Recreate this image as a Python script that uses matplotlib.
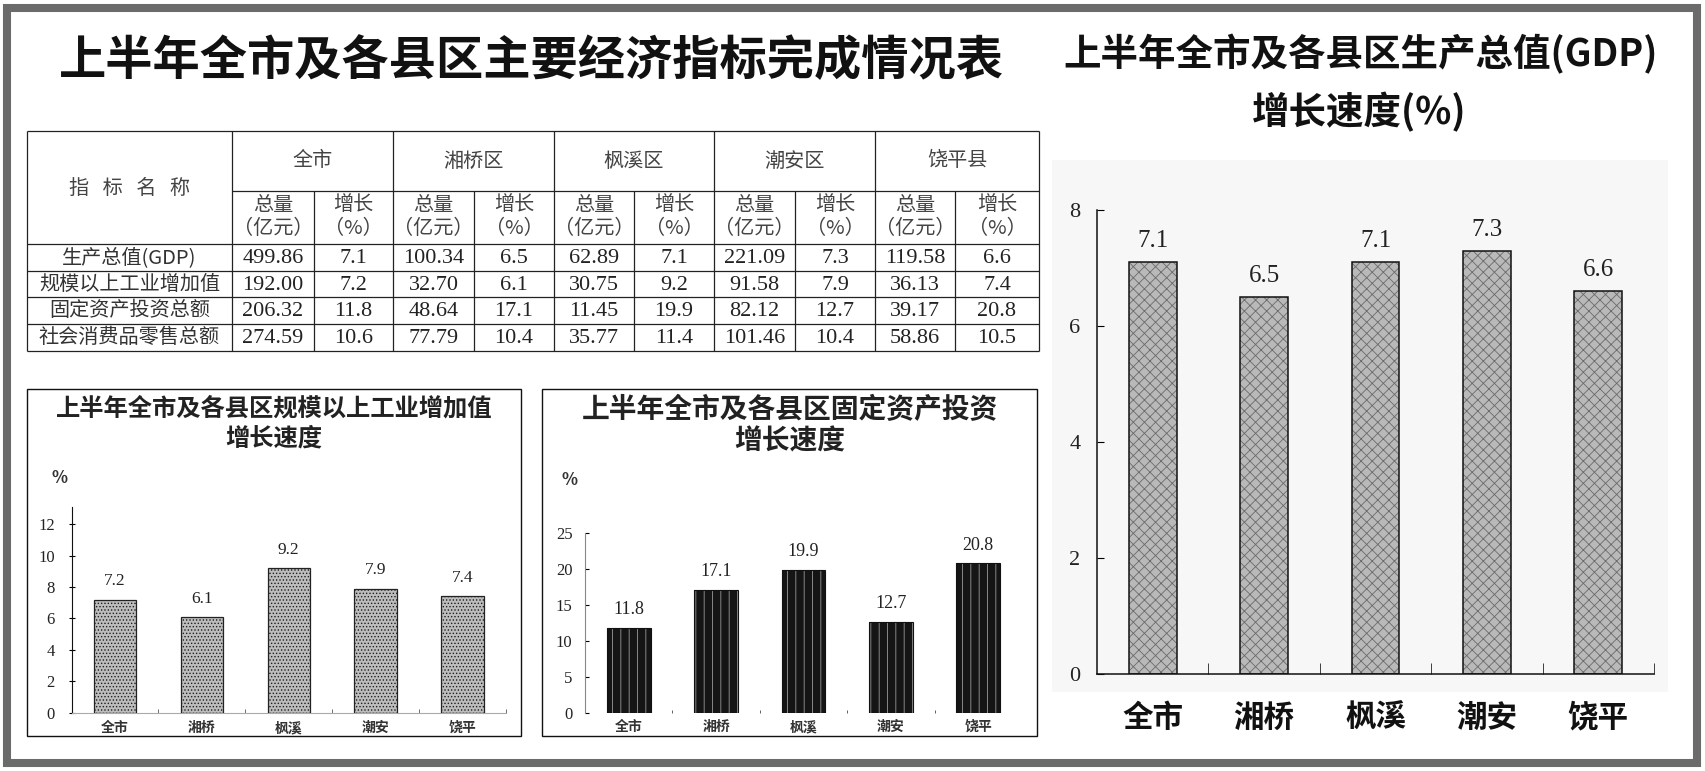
import matplotlib.pyplot as plt
from matplotlib.patches import Rectangle

plt.rcParams['font.family'] = ['Noto Sans CJK SC', 'DejaVu Sans']
plt.rcParams['hatch.linewidth'] = 0.6

W, H = 1705, 771

# data
regions = ['全市', '湘桥区', '枫溪区', '潮安区', '饶平县']
districts = ['全市', '湘桥', '枫溪', '潮安', '饶平']
indicators = ['生产总值(GDP)', '规模以上工业增加值', '固定资产投资总额', '社会消费品零售总额']

gdp_total = [499.86, 100.34, 62.89, 221.09, 119.58]
gdp_growth = [7.1, 6.5, 7.1, 7.3, 6.6]
industry_total = [192.00, 32.70, 30.75, 91.58, 36.13]
industry_growth = [7.2, 6.1, 9.2, 7.9, 7.4]
invest_total = [206.32, 48.64, 11.45, 82.12, 39.17]
invest_growth = [11.8, 17.1, 19.9, 12.7, 20.8]
retail_total = [274.59, 77.79, 35.77, 101.46, 58.86]
retail_growth = [10.6, 10.4, 11.4, 10.4, 10.5]

SERIF = ['Liberation Serif', 'DejaVu Serif']


def fig_rect(x0, y_bottom, x1, y_top):
    """Pixel box (top-left origin) -> figure fraction rect."""
    return [x0 / W, (H - y_bottom) / H, (x1 - x0) / W, (y_bottom - y_top) / H]


def bars_with_pattern(ax, values, width, face, hatch, hatch_color, edge, lw):
    x = range(len(values))
    ax.bar(x, values, width=width, color=face, edgecolor=hatch_color,
           hatch=hatch, linewidth=0, zorder=2)
    ax.bar(x, values, width=width, fill=False, edgecolor=edge,
           linewidth=lw, zorder=3)


def value_labels(ax, values, size, offset):
    for i, v in enumerate(values):
        ax.annotate(f'{v:.1f}', (i, v), xytext=(0, offset), textcoords='offset points',
                    ha='center', va='center', fontsize=size, family=SERIF, color='#222')


fig = plt.figure(figsize=(W / 100, H / 100), dpi=100)
bg = fig.add_axes([0, 0, 1, 1])
bg.set_xlim(0, W)
bg.set_ylim(H, 0)
bg.axis('off')

# outer frame
bg.add_patch(Rectangle((7, 8), 1689.5, 754.5, fill=False, ec='#6b6b6b', lw=5.8))

# main title
bg.text(531, 61, '上半年全市及各县区主要经济指标完成情况表', ha='center', va='center',
        fontsize=34, fontweight='bold', color='#111')

# ---- table ----
col_x = [27, 232, 314, 393, 474, 554, 634, 714, 795, 875, 955, 1039]
row_y = [131, 191, 244, 271, 297, 324, 351]
lc, tlw = '#222', 0.9
bg.hlines(row_y[0], col_x[0], col_x[-1], color=lc, lw=tlw)
bg.hlines(row_y[1], col_x[1], col_x[-1], color=lc, lw=tlw)
bg.hlines(row_y[2:], col_x[0], col_x[-1], color=lc, lw=tlw)
bg.vlines([col_x[0], col_x[1], col_x[3], col_x[5], col_x[7], col_x[9], col_x[11]],
          row_y[0], row_y[-1], color=lc, lw=tlw)
bg.vlines([col_x[2], col_x[4], col_x[6], col_x[8], col_x[10]],
          row_y[1], row_y[-1], color=lc, lw=tlw)

hdr = dict(ha='center', va='center', fontsize=14.5, color='#444', fontweight='light')
bg.text((col_x[0] + col_x[1]) / 2, 188, '指   标   名   称', **hdr)
for k, name in enumerate(regions):
    xa, xb, xc = col_x[1 + 2 * k], col_x[2 + 2 * k], col_x[3 + 2 * k]
    bg.text((xa + xc) / 2, 161, name, **hdr)
    bg.text((xa + xb) / 2, 205, '总量', **hdr)
    bg.text((xa + xb) / 2, 229, '（亿元）', **hdr)
    bg.text((xb + xc) / 2, 205, '增长', **hdr)
    bg.text((xb + xc) / 2, 229, '（%）', **hdr)

table_rows = [(gdp_total, gdp_growth), (industry_total, industry_growth),
              (invest_total, invest_growth), (retail_total, retail_growth)]
for r, (label, (tot, gro)) in enumerate(zip(indicators, table_rows)):
    yc = (row_y[2 + r] + row_y[3 + r]) / 2
    bg.text((col_x[0] + col_x[1]) / 2, yc, label, ha='center', va='center',
            fontsize=14.5, color='#333', fontweight='light')
    for k in range(len(regions)):
        xa, xb, xc = col_x[1 + 2 * k], col_x[2 + 2 * k], col_x[3 + 2 * k]
        bg.text((xa + xb) / 2, yc + 1, f'{tot[k]:.2f}', ha='center', va='center',
                fontsize=16, family=SERIF, color='#222')
        bg.text((xb + xc) / 2, yc + 1, f'{gro[k]:.1f}', ha='center', va='center',
                fontsize=16, family=SERIF, color='#222')

# ---- boxes for two small charts ----
bg.add_patch(Rectangle((27, 389), 494, 347, fill=False, ec='#111', lw=1.0))
bg.add_patch(Rectangle((542, 389), 495, 347, fill=False, ec='#111', lw=1.0))
bg.add_patch(Rectangle((1052, 160), 616, 532, color='#f7f7f7', lw=0))

# ---- industrial growth chart ----
bg.text(274, 408, '上半年全市及各县区规模以上工业增加值', ha='center', va='center',
        fontsize=17.5, fontweight='bold', color='#222')
bg.text(274, 439, '增长速度', ha='center', va='center', fontsize=17.5,
        fontweight='bold', color='#222')
bg.text(60, 478, '%', ha='center', va='center', fontsize=12, fontweight='bold', color='#333')

ax1 = fig.add_axes(fig_rect(71.6, 712.7, 506, 712.7 - 13.1 * 15.72))
ax1.patch.set_alpha(0)
bars_with_pattern(ax1, industry_growth, 0.49, '#bdbdbd', '.....', '#1e1e1e', '#222', 0.9)
value_labels(ax1, industry_growth, 12.5, 13)
ax1.set_xlim(-0.5, 4.5)
ax1.set_ylim(0, 13.1)
ax1.set_yticks(range(0, 13, 2))
ax1.set_xticks(range(5), districts)
ax1.set_xticks([0.5, 1.5, 2.5, 3.5, 4.5], minor=True)
ax1.tick_params(axis='x', which='major', length=0, pad=6, labelsize=10, labelcolor='#333')
ax1.tick_params(axis='x', which='minor', length=3, direction='in', color='#555')
ax1.tick_params(axis='y', length=4, direction='inout', pad=10, labelsize=12, labelcolor='#222')
for t in ax1.get_yticklabels():
    t.set_family(SERIF)
for t in ax1.get_xticklabels():
    t.set_fontweight('bold')
ax1.spines[['top', 'right']].set_visible(False)
ax1.spines['left'].set_color('#111')
ax1.spines['bottom'].set_color('#aaa')
ax1.spines['bottom'].set_linewidth(0.8)

# ---- fixed asset investment chart ----
bg.text(790, 410, '上半年全市及各县区固定资产投资', ha='center', va='center',
        fontsize=20, fontweight='bold', color='#222')
bg.text(790, 442, '增长速度', ha='center', va='center', fontsize=20,
        fontweight='bold', color='#222')
bg.text(570, 480, '%', ha='center', va='center', fontsize=12, fontweight='bold', color='#333')

ax2 = fig.add_axes(fig_rect(585, 713, 1022, 533))
ax2.patch.set_alpha(0)
bars_with_pattern(ax2, invest_growth, 0.5, '#151515', '||', '#9a9a9a', '#111', 0.8)
value_labels(ax2, invest_growth, 13, 13)
ax2.set_xlim(-0.5, 4.5)
ax2.set_ylim(0, 25)
ax2.set_yticks(range(0, 26, 5))
ax2.set_xticks(range(5), districts)
ax2.set_xticks([0.5, 1.5, 2.5, 3.5], minor=True)
ax2.tick_params(axis='x', which='major', length=0, pad=5, labelsize=10, labelcolor='#333')
ax2.tick_params(axis='x', which='minor', length=2, direction='in', color='#444')
ax2.tick_params(axis='y', length=3, direction='in', pad=9, labelsize=12, labelcolor='#222')
for t in ax2.get_yticklabels():
    t.set_family(SERIF)
for t in ax2.get_xticklabels():
    t.set_fontweight('bold')
ax2.spines[['top', 'right', 'bottom']].set_visible(False)
ax2.spines['left'].set_color('#888')

# ---- GDP growth chart ----
bg.text(1361, 54, '上半年全市及各县区生产总值(GDP)', ha='center', va='center',
        fontsize=27, fontweight='bold', color='#111')
bg.text(1359, 112, '增长速度(%)', ha='center', va='center', fontsize=27,
        fontweight='bold', color='#111')

ax3 = fig.add_axes(fig_rect(1097, 674, 1654, 210))
ax3.patch.set_alpha(0)
bars_with_pattern(ax3, gdp_growth, 0.43, '#b9b9b9', 'xxx', '#6a6a6a', '#111', 1.1)
value_labels(ax3, gdp_growth, 18, 15)
ax3.set_xlim(-0.5, 4.5)
ax3.set_ylim(0, 8)
ax3.set_yticks(range(0, 9, 2))
ax3.set_xticks(range(5), districts)
ax3.set_xticks([0.5, 1.5, 2.5, 3.5, 4.5], minor=True)
ax3.tick_params(axis='x', which='major', length=0, pad=20, labelsize=22, labelcolor='#111')
ax3.tick_params(axis='x', which='minor', length=8, direction='in', color='#222')
ax3.tick_params(axis='y', length=5, direction='in', pad=12, labelsize=16, labelcolor='#222')
for t in ax3.get_yticklabels():
    t.set_family(SERIF)
for t in ax3.get_xticklabels():
    t.set_fontweight('bold')
ax3.spines[['top', 'right']].set_visible(False)
ax3.spines[['left', 'bottom']].set_color('#111')
ax3.spines[['left', 'bottom']].set_linewidth(1.1)

fig.savefig('out.png', dpi=100, facecolor='white')
